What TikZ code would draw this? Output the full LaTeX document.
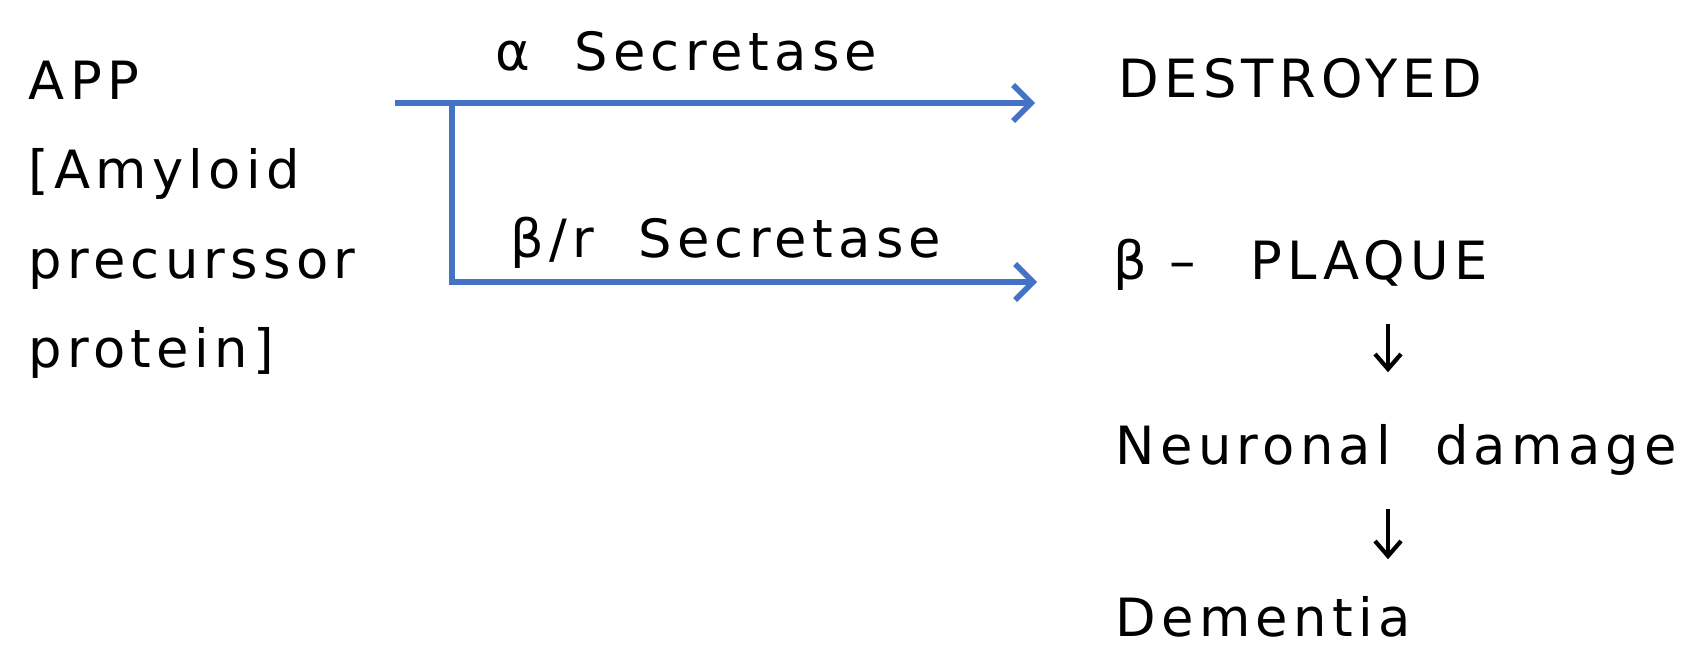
\documentclass[tikz,border=0pt]{standalone}
\usepackage{fontspec}
\setmainfont{DejaVu Sans}[LetterSpace=10,WordSpace=2]
\usetikzlibrary{arrows.meta,positioning}
\definecolor{pathblue}{RGB}{68,114,196}

\begin{document}
\begin{tikzpicture}[font=\fontsize{15}{25.5}\selectfont,
    term/.style={inner sep=0pt, anchor=base west},
    route/.style={draw=pathblue, line width=1.6pt, -{Straight Barb[length=1.8mm,width=3.6mm]}},
    down/.style={line width=1.2pt, -{Straight Barb[length=1.5mm,width=2.6mm]}}]

        \useasboundingbox (0,0) rectangle (17.01,-6.48);

        % precursor (base is the last line)
        \node[term, align=left] (app) at (0.28,-3.68) {APP\\{[}Amyloid\\precurssor\\protein]};

        % secretase routes
        \coordinate (split) at (3.95,-1.03);
        \coordinate (fork) at (4.52,-1.03);
        \coordinate (turn) at (4.52,-2.82);
        \coordinate (end1) at (10.35,-1.03);
        \coordinate (end2) at (10.37,-2.82);

        \draw[route] (split) -- (end1);
        \draw[route] (fork) -- (turn) -- (end2);

        \node[term] (alpha) at (4.95,-0.71) {α Secretase};
        \node[term] (beta) at (5.10,-2.58) {β/r Secretase};

        % outcomes
        \node[term] (destroyed) at (11.18,-0.98) {DESTROYED};
        \node[term] (plaque) at (11.13,-2.80) {β\hspace{0.22cm}–\hspace{0.55cm}PLAQUE};
        \node[term] (neuronal) at (11.15,-4.65) {Neuronal damage};
        \node[term] (dementia) at (11.15,-6.37) {Dementia};

        \coordinate (col) at (13.88,0);
        \draw[down, shorten <=0.32cm, shorten >=0.52cm] (plaque.south -| col) -- (neuronal.north -| col);
        \draw[down, shorten <=0.32cm, shorten >=0.37cm] (neuronal.south -| col) -- (dementia.north -| col);
\end{tikzpicture}
\end{document}
